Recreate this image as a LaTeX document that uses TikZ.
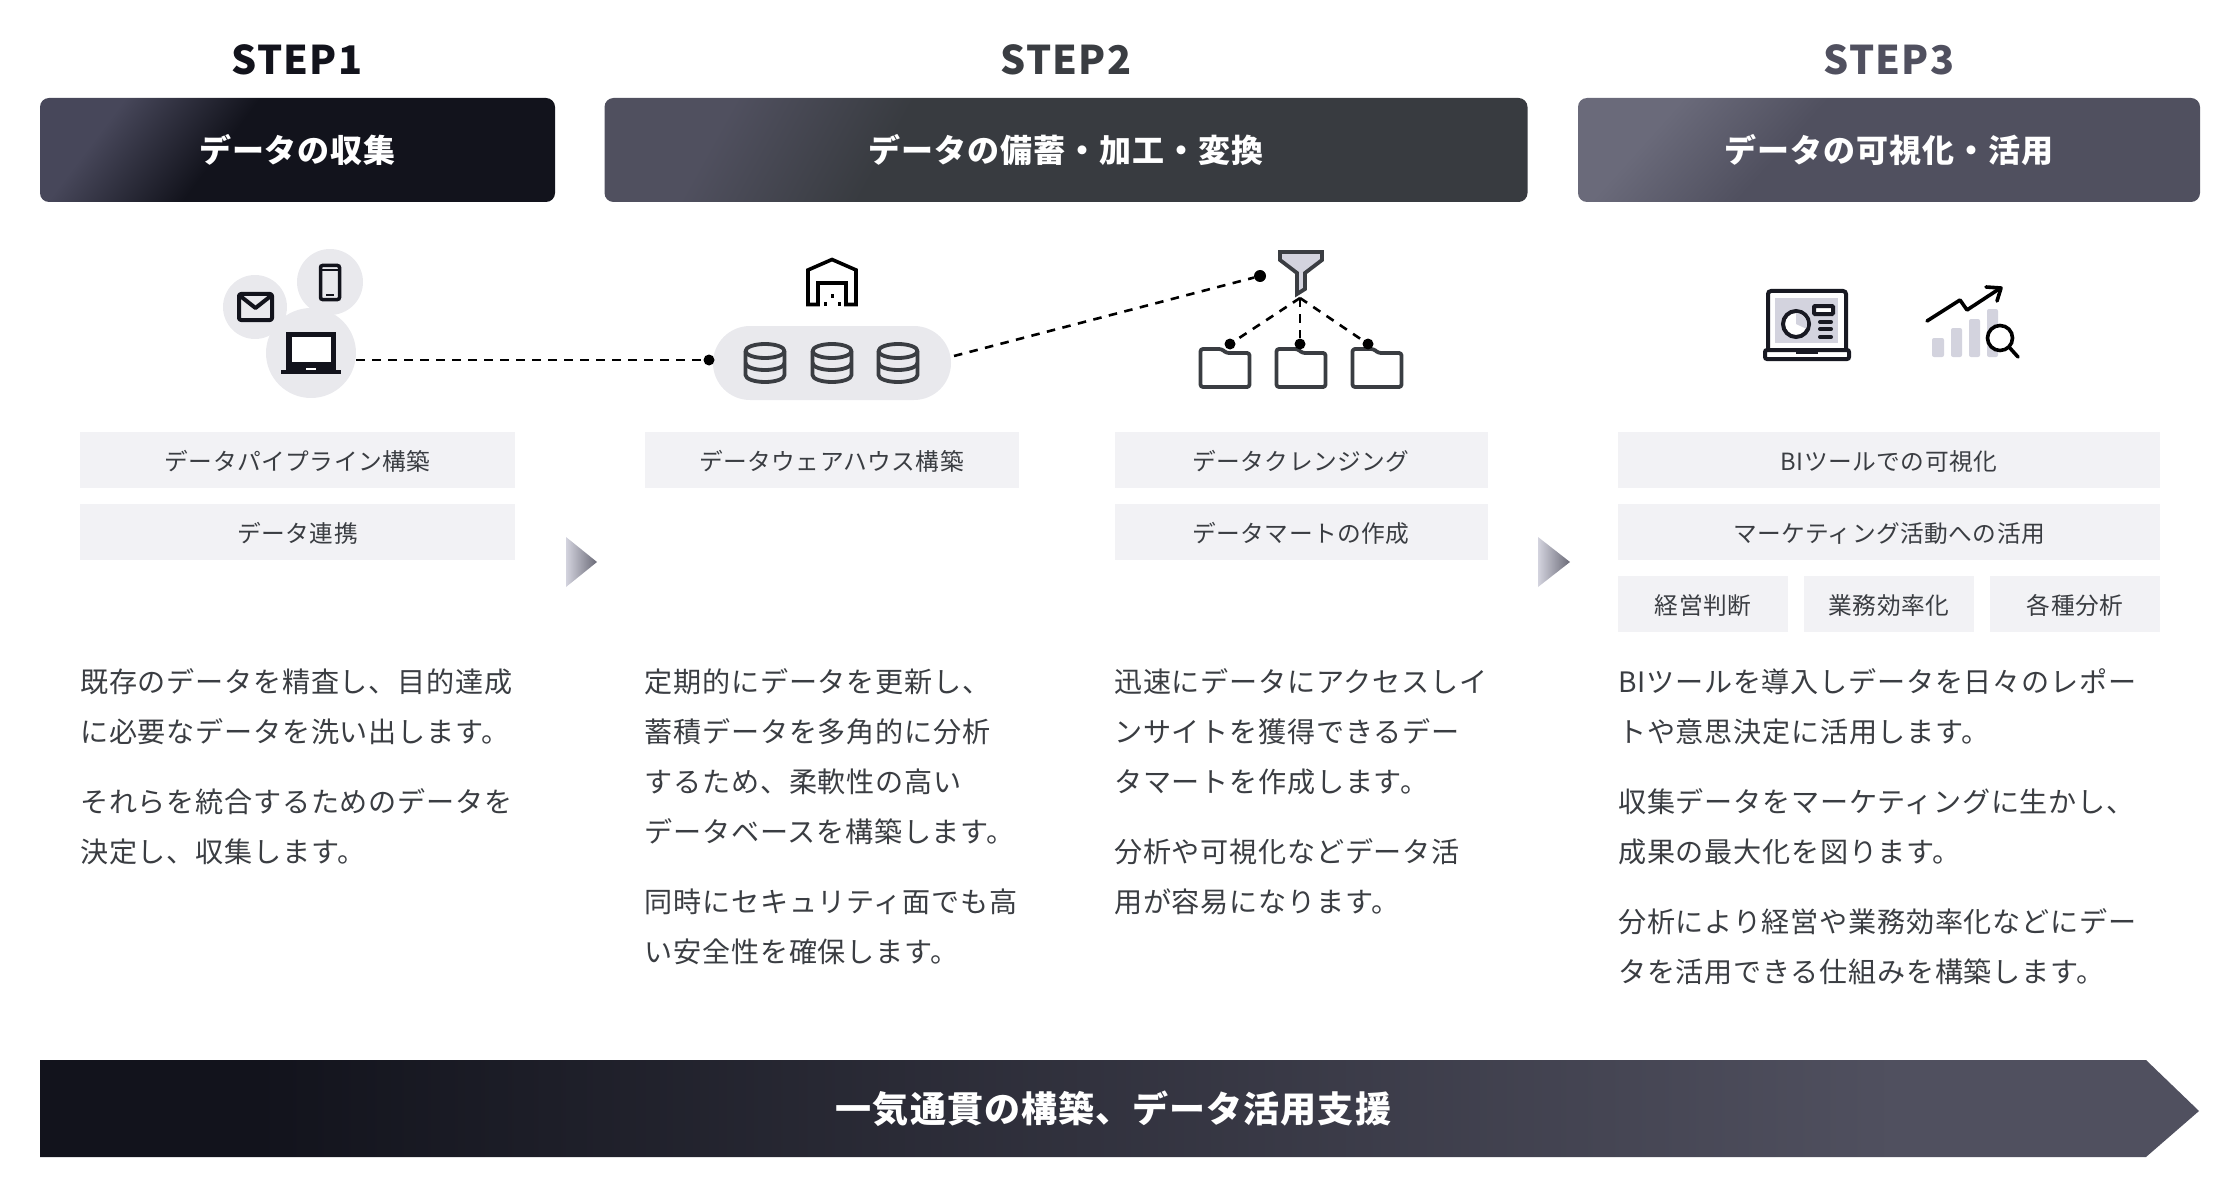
\documentclass[tikz,border=0pt]{standalone}
\usepackage{fontspec}
\setmainfont{Noto Sans CJK JP}
\newfontfamily\bodyfont[LetterSpace=2.7]{Noto Sans CJK JP}
\newfontfamily\tagfont[LetterSpace=2]{Noto Sans CJK JP}
\newfontfamily\stepfont[LetterSpace=3]{Noto Sans CJK JP}
\definecolor{inkdark}{HTML}{12131C}
\definecolor{inkslate}{HTML}{383B40}
\definecolor{inkplum}{HTML}{50505F}
\definecolor{inktext}{HTML}{3A3D42}
\definecolor{paleblock}{HTML}{F2F2F5}
\definecolor{palecircle}{HTML}{E9E9ED}
\definecolor{paleicon}{HTML}{D3D3DE}
\definecolor{glowA}{HTML}{47475A}
\definecolor{glowB}{HTML}{50505F}
\definecolor{glowC}{HTML}{6A6A7A}
\pgfdeclarehorizontalshading{stepone}{100bp}{color(0bp)=(glowA); color(25bp)=(glowA); color(41bp)=(inkdark); color(100bp)=(inkdark)}
\pgfdeclarehorizontalshading{steptwo}{100bp}{color(0bp)=(glowB); color(25bp)=(glowB); color(37.5bp)=(inkslate); color(100bp)=(inkslate)}
\pgfdeclarehorizontalshading{stepthree}{100bp}{color(0bp)=(glowC); color(25bp)=(glowC); color(39.5bp)=(inkplum); color(100bp)=(inkplum)}
\pgfdeclarehorizontalshading{barfade}{100bp}{color(0bp)=(inkdark); color(30bp)=(inkdark); color(68bp)=(inkplum); color(100bp)=(inkplum)}
\tikzset{
    stephead/.style={shade, text=white, inner sep=0, minimum height=104, font=\stepfont\bfseries\fontsize{32}{36}\selectfont},
    steptitle/.style={inner sep=0, font=\stepfont\bfseries\fontsize{39.5}{48}\selectfont},
    tagbox/.style={fill=paleblock, text=inktext, inner sep=0, minimum height=56, text height=24pt, text depth=3pt, font=\tagfont\fontsize{23.7}{28}\selectfont},
    bodytext/.style={anchor=north west, inner sep=0, align=left, text=inktext, font=\bodyfont\fontsize{28.1}{50}\selectfont},
    iconbg/.style={circle, fill=palecircle, inner sep=0},
    dotmark/.style={circle, fill=black, inner sep=0, minimum size=11},
    dashlink/.style={black, line width=2.6, dash pattern=on 8.5pt off 7.5pt},
    iconline/.style={color=inktext, line width=3.8, line join=round}
}
\begin{document}
\begin{tikzpicture}[x=1pt, y=-1pt]
    \useasboundingbox (0, 0) rectangle (2240, 1190);
    \node[steptitle, color=inkdark] (titleA) at (297, 59.5) {STEP1};
    \node[steptitle, color=inktext] (titleB) at (1066, 59.5) {STEP2};
    \node[steptitle, color=inkplum] (titleC) at (1889, 59.5) {STEP3};
    \node[stephead, rounded corners=9, shading=stepone, shading angle=-37, minimum width=515] (headA) at (297.5, 150) {データの収集};
    \node[stephead, rounded corners=9, shading=steptwo, shading angle=-29, minimum width=923] (headB) at (1066, 150) {データの備蓄・加工・変換};
    \node[stephead, rounded corners=9, shading=stepthree, shading angle=-42, minimum width=622] (headC) at (1889, 150) {データの可視化・活用};

    \node[iconbg, minimum size=66] (phonebg) at (330, 282) {};
    \node[iconbg, minimum size=64] (mailbg) at (255, 307) {};
    \node[iconbg, minimum size=90] (laptopbg) at (311, 353) {};
    \draw[color=inkdark, line width=3.5, rounded corners=2] (320.5, 265.5) rectangle (339.5, 299.5);
    \draw[color=inkdark, line width=2] (320, 270) -- (340, 270);
    \draw[color=inkdark, line width=2] (326, 295) -- (334, 295);
    \draw[color=inkdark, line width=4, rounded corners=2, line join=round] (239, 294) rectangle (272, 320);
    \draw[color=inkdark, line width=4, line join=round] (239, 295) -- (255.5, 308) -- (272, 295);
    \fill[color=inkdark] (286, 332) rectangle (336, 370);
    \fill[color=white] (291.5, 336.5) rectangle (331, 361.5);
    \fill[color=inkdark] (281, 370) rectangle (341, 374);
    \fill[color=white] (306, 367.5) rectangle (316, 370);

    \node[rectangle, fill=palecircle, rounded corners=37, inner sep=0, minimum width=238, minimum height=74] (dbpill) at (832, 363) {};
    \foreach \dbx in {765, 832, 898} {
        \begin{scope}[shift={(\dbx, 0)}]
            \draw[iconline] (0, 351) ellipse [x radius=19.5, y radius=7];
            \draw[iconline] (-19.5, 351) -- (-19.5, 375) arc[start angle=180, end angle=0, x radius=19.5, y radius=7] -- (19.5, 351);
            \draw[iconline] (-19.5, 363) arc[start angle=180, end angle=0, x radius=19.5, y radius=7];
        \end{scope}
    }
    \draw[color=black, line width=3.6, line join=miter] (808, 304.5) -- (808, 270) -- (832, 259.5) -- (856, 270) -- (856, 304.5) -- (846, 304.5) -- (846, 283) -- (818, 283) -- (818, 304.5) -- cycle;
    \fill[color=black] (830.5, 294) rectangle (833.5, 298);
    \fill[color=black] (823.5, 302) rectangle (826.5, 306);
    \fill[color=black] (837.5, 302) rectangle (840.5, 306);

    \draw[iconline, fill=paleicon, line join=miter] (1280, 252) -- (1322, 252) -- (1322, 260) -- (1305, 273) -- (1305, 289) -- (1297, 294) -- (1297, 273) -- (1280, 260) -- cycle;
    \foreach \fx in {1200.5, 1276.5, 1352.5} {
        \draw[iconline, rounded corners=2.5] (\fx, 349) -- ({\fx+21}, 349) -- ({\fx+26}, 353) -- ({\fx+49}, 353) -- ({\fx+49}, 387) -- (\fx, 387) -- cycle;
    }
    \node[dotmark] (dotdb) at (709, 360) {};
    \node[dotmark, minimum size=12] (dotfunnel) at (1260, 276) {};
    \node[dotmark] (dotfa) at (1230, 344) {};
    \node[dotmark] (dotfb) at (1300, 344) {};
    \node[dotmark] (dotfc) at (1368, 344) {};
    \coordinate (dbout) at (954, 356);
    \coordinate (funnelout) at (1300, 298);
    \draw[dashlink] (laptopbg.east |- dotdb) -- (dotdb);
    \draw[dashlink] (dbout) -- (dotfunnel);
    \draw[dashlink] (funnelout) -- (dotfa);
    \draw[dashlink] (funnelout) -- (dotfb);
    \draw[dashlink] (funnelout) -- (dotfc);

    \fill[color=paleicon] (1775, 298) rectangle (1838, 343);
    \draw[color=inkdark!85!inktext, line width=4, rounded corners=3] (1768, 350) -- (1768, 291) -- (1846, 291) -- (1846, 350);
    \draw[color=inkdark!85!inktext, fill=white, line width=4, rounded corners=2] (1765, 350) rectangle (1849, 359);
    \fill[color=inkdark!85!inktext] (1796, 350) rectangle (1818, 354);
    \draw[color=inkdark!85!inktext, fill=white, line width=4] (1796, 324) circle (13);
    \fill[color=paleicon] (1796, 324) -- (1796, 313) arc[start angle=-90, end angle=25, radius=11] -- cycle;
    \draw[color=inkdark!85!inktext, fill=white, line width=4, rounded corners=1] (1814, 306) rectangle (1833, 314);
    \foreach \barY in {322, 329, 337} {
        \draw[color=inkdark!85!inktext, line width=4, line cap=round] (1820, \barY) -- (1831, \barY);
    }

    \fill[color=paleicon, rounded corners=2] (1932, 338) rectangle (1944, 357);
    \fill[color=paleicon, rounded corners=2] (1951, 328) rectangle (1962, 357);
    \fill[color=paleicon, rounded corners=2] (1969, 319) rectangle (1980, 357);
    \fill[color=paleicon, rounded corners=2] (1987, 309) rectangle (1998, 357);
    \draw[color=black, line width=3.6, line cap=round, line join=round] (1927, 321) -- (1960, 300) -- (1967, 310) -- (1999, 289);
    \draw[color=black, line width=3.6, line cap=round, line join=round] (1986, 287) -- (2001, 288) -- (1997, 301);
    \draw[color=black, fill=white, line width=3.6] (2000, 338) circle (12.5);
    \draw[color=black, line width=3.6, line cap=round] (2009, 347) -- (2018, 357);

    \node[tagbox, minimum width=435] (tagA) at (297.5, 460) {データパイプライン構築};
    \node[tagbox, minimum width=435] (tagB) at (297.5, 532) {データ連携};
    \node[tagbox, minimum width=374] (tagC) at (831.5, 460) {データウェアハウス構築};
    \node[tagbox, minimum width=373] (tagD) at (1301, 460) {データクレンジング};
    \node[tagbox, minimum width=373] (tagE) at (1301, 532) {データマートの作成};
    \node[tagbox, minimum width=542] (tagF) at (1889, 460) {BIツールでの可視化};
    \node[tagbox, minimum width=542] (tagG) at (1889, 532) {マーケティング活動への活用};
    \node[tagbox, minimum width=170] (tagH) at (1703, 604) {経営判断};
    \node[tagbox, minimum width=170] (tagI) at (1889, 604) {業務効率化};
    \node[tagbox, minimum width=170] (tagJ) at (2075, 604) {各種分析};

    \shade[left color=paleicon, right color=inkplum!85] (566, 537) -- (597, 562) -- (566, 587) -- cycle;
    \shade[left color=paleicon, right color=inkplum!85] (1538, 537) -- (1570, 562) -- (1538, 587) -- cycle;

    \node[bodytext] (textAa) at (80, 668) {既存のデータを精査し、目的達成\\に必要なデータを洗い出します。};
    \node[bodytext] (textAb) at (80, 788) {それらを統合するためのデータを\\決定し、収集します。};
    \node[bodytext] (textBa) at (644.5, 668) {定期的にデータを更新し、\\蓄積データを多角的に分析\\するため、柔軟性の高い\\データベースを構築します。};
    \node[bodytext] (textBb) at (644.5, 889) {同時にセキュリティ面でも高\\い安全性を確保します。};
    \node[bodytext] (textCa) at (1114, 668) {迅速にデータにアクセスしイ\\ンサイトを獲得できるデー\\タマートを作成します。};
    \node[bodytext] (textCb) at (1114, 838) {分析や可視化などデータ活\\用が容易になります。};
    \node[bodytext] (textDa) at (1618, 668) {BIツールを導入しデータを日々のレポー\\トや意思決定に活用します。};
    \node[bodytext] (textDb) at (1618, 788) {収集データをマーケティングに生かし、\\成果の最大化を図ります。};
    \node[bodytext] (textDc) at (1618, 908) {分析により経営や業務効率化などにデー\\タを活用できる仕組みを構築します。};

    \shade[shading=barfade] (40, 1060) -- (2146, 1060) -- (2199, 1111) -- (2146, 1157) -- (40, 1157) -- cycle;
    \node[text=white, inner sep=0, font=\stepfont\bfseries\fontsize{36}{42}\selectfont] (barlabel) at (1113.5, 1109) {一気通貫の構築、データ活用支援};
\end{tikzpicture}
\end{document}
